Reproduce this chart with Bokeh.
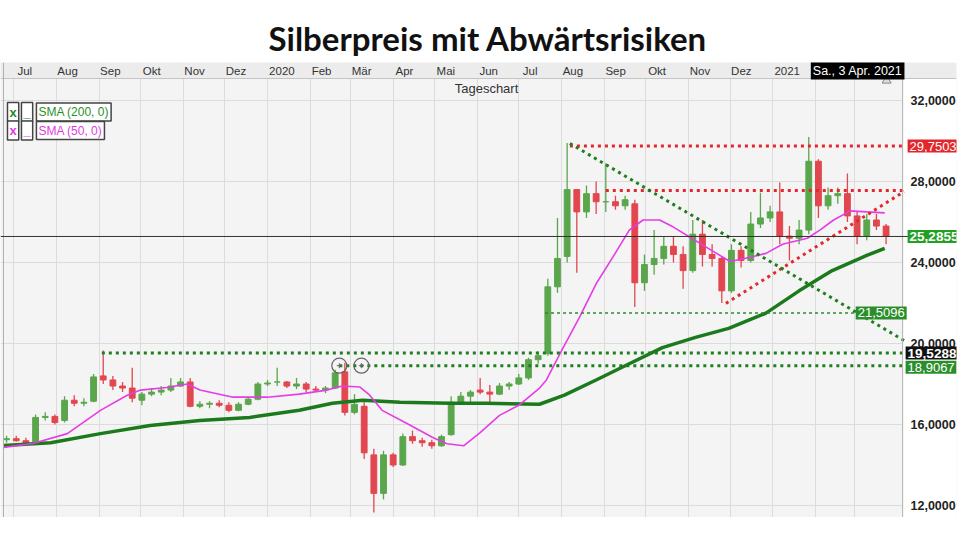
import pandas as pd
from bokeh.plotting import figure
from bokeh.models import Range1d, FixedTicker, Label, Span, BoxAnnotation
from bokeh.embed import file_html
from bokeh.resources import INLINE

T0 = pd.Timestamp("2019-07-01")


def day(s):
    return (pd.Timestamp(s) - T0).days


# ---------------- data ----------------
FIRST_WEEK = "2019-06-24"  # weekly candles, Monday of the first week

opens = [15.25, 15.30, 15.20, 15.15, 16.35, 16.40, 16.20, 17.20, 17.05, 17.15,
         18.40, 18.20, 17.90, 17.80, 17.20, 17.50, 17.60, 17.70, 17.90, 18.10,
         16.90, 17.00, 17.05, 16.95, 16.70, 17.00, 17.25, 18.00, 18.10, 18.10,
         17.90, 18.00, 17.75, 17.70, 17.80, 18.60, 16.60, 16.90, 14.50, 12.60,
         14.50, 14.00, 15.40, 15.20, 15.10, 14.95, 15.50, 17.10, 17.40, 17.70,
         17.60, 17.50, 17.90, 18.00, 18.30, 19.20, 19.50, 22.80, 24.30, 27.60,
         26.50, 27.40, 27.00, 27.00, 26.80, 26.90, 23.00, 23.90, 24.20, 24.80,
         24.40, 23.60, 25.40, 24.40, 24.20, 22.60, 24.60, 24.10, 25.90, 26.20,
         26.50, 25.30, 25.20, 25.60, 29.00, 26.80, 27.30, 27.40, 26.30, 25.30,
         26.10, 25.80]
highs = [15.45, 15.45, 15.35, 16.50, 16.60, 16.50, 17.40, 17.45, 17.30, 18.50,
         19.65, 18.40, 18.10, 18.80, 17.60, 17.80, 17.90, 18.30, 18.30, 18.30,
         17.15, 17.15, 17.20, 17.10, 17.10, 17.35, 18.10, 18.20, 18.80, 18.15,
         18.30, 18.10, 17.90, 17.90, 18.70, 19.05, 17.50, 17.10, 14.80, 14.70,
         14.60, 15.55, 15.70, 15.35, 15.25, 15.50, 17.40, 17.60, 17.70, 18.30,
         17.95, 18.05, 18.10, 18.50, 19.30, 19.60, 23.20, 26.20, 29.90, 27.60,
         27.80, 28.00, 28.90, 27.30, 27.30, 27.10, 24.40, 25.60, 25.30, 25.30,
         24.80, 26.10, 26.10, 24.90, 24.30, 24.90, 24.80, 26.50, 27.45, 26.80,
         27.95, 25.80, 26.10, 30.20, 29.10, 27.70, 27.70, 28.40, 26.50, 26.40,
         26.40, 25.90]
lows = [15.10, 15.15, 15.00, 15.10, 16.20, 16.00, 16.10, 16.90, 16.90, 17.10,
        18.00, 17.70, 17.60, 17.10, 16.95, 17.40, 17.45, 17.60, 17.85, 16.85,
        16.80, 16.80, 16.85, 16.60, 16.65, 16.95, 17.20, 17.90, 17.90, 17.80,
        17.75, 17.60, 17.60, 17.55, 17.75, 16.45, 16.50, 14.30, 11.65, 12.30,
        13.90, 13.95, 15.05, 14.90, 14.80, 14.90, 15.45, 17.05, 17.10, 17.50,
        17.10, 17.45, 17.70, 17.95, 18.20, 19.00, 19.40, 22.50, 24.00, 23.50,
        26.20, 26.40, 26.50, 26.60, 26.60, 21.80, 22.60, 23.40, 23.90, 24.00,
        22.70, 23.50, 23.80, 23.80, 22.00, 22.50, 23.75, 24.00, 25.70, 26.00,
        24.90, 24.10, 24.90, 25.40, 26.20, 26.60, 26.90, 26.00, 24.90, 25.10,
        25.60, 24.90]
closes = [15.30, 15.20, 15.10, 16.35, 16.40, 16.10, 17.20, 17.05, 17.10, 18.35,
          18.20, 17.90, 17.80, 17.30, 17.50, 17.60, 17.70, 17.90, 18.10, 16.90,
          17.00, 17.05, 16.95, 16.70, 17.00, 17.25, 18.00, 18.05, 18.10, 17.90,
          18.00, 17.75, 17.70, 17.80, 18.55, 16.60, 17.00, 14.60, 12.60, 14.50,
          14.00, 15.40, 15.20, 15.10, 14.95, 15.40, 17.10, 17.40, 17.60, 17.60,
          17.50, 17.90, 18.00, 18.30, 19.20, 19.40, 22.80, 24.20, 27.60, 26.50,
          27.40, 27.00, 27.00, 26.80, 27.10, 23.00, 23.90, 24.20, 24.80, 24.40,
          23.60, 25.40, 24.40, 24.20, 22.60, 24.60, 24.10, 25.90, 26.20, 26.50,
          25.30, 25.20, 25.60, 29.00, 26.80, 27.30, 27.40, 26.30, 25.30, 26.10,
          25.80, 25.2855]

sma200_dates = ["2019-06-24", "2019-07-28", "2019-09-02", "2019-10-08", "2019-11-13",
                "2019-12-19", "2020-01-24", "2020-02-17", "2020-03-10", "2020-04-06",
                "2020-05-12", "2020-06-07", "2020-07-16", "2020-08-03", "2020-08-26",
                "2020-09-19", "2020-10-13", "2020-11-06", "2020-11-30", "2020-12-27",
                "2021-01-20", "2021-02-13", "2021-03-10", "2021-03-23"]
sma200_vals = [14.96, 15.10, 15.55, 15.95, 16.20, 16.35, 16.70, 17.05, 17.20, 17.10,
               17.05, 17.05, 17.00, 17.45, 18.20, 19.00, 19.80, 20.30, 20.75, 21.50,
               22.60, 23.60, 24.35, 24.70]

sma50_dates = ["2019-06-24", "2019-07-15", "2019-08-09", "2019-09-02", "2019-09-21",
               "2019-10-01", "2019-10-20", "2019-11-04", "2019-11-13", "2019-12-07",
               "2020-01-01", "2020-01-24", "2020-02-13", "2020-02-24", "2020-03-08",
               "2020-03-15", "2020-03-24", "2020-04-11", "2020-04-30", "2020-05-10",
               "2020-05-22", "2020-06-03", "2020-06-17", "2020-07-01", "2020-07-16",
               "2020-07-21", "2020-08-01", "2020-08-14", "2020-08-26", "2020-09-07",
               "2020-09-19", "2020-09-29", "2020-10-11", "2020-10-21", "2020-11-02",
               "2020-11-14", "2020-12-01", "2020-12-15", "2020-12-27", "2021-01-08",
               "2021-01-26", "2021-02-04", "2021-02-14", "2021-02-26", "2021-03-10",
               "2021-03-23"]
sma50_vals = [14.87, 15.06, 15.55, 16.70, 17.43, 17.70, 17.83, 18.00, 17.70, 17.35,
              17.35, 17.50, 17.70, 17.90, 17.85, 17.45, 16.70, 16.05, 15.35, 15.05,
              14.95, 15.60, 16.45, 16.95, 17.80, 18.20, 19.65, 21.30, 22.95, 24.25,
              25.60, 26.10, 26.10, 25.75, 25.25, 24.75, 24.05, 24.25, 24.45, 24.90,
              25.20, 25.60, 26.10, 26.55, 26.50, 26.45]

month_dates = ["2019-07-01", "2019-08-01", "2019-09-01", "2019-10-01", "2019-11-01",
               "2019-12-01", "2020-01-01", "2020-02-01", "2020-03-01", "2020-04-01",
               "2020-05-01", "2020-06-01", "2020-07-01", "2020-08-01", "2020-09-01",
               "2020-10-01", "2020-11-01", "2020-12-01", "2021-01-01", "2021-02-01",
               "2021-03-01"]
month_labels = ["Jul", "Aug", "Sep", "Okt", "Nov", "Dez", "2020", "Feb", "Mär", "Apr",
                "Mai", "Jun", "Jul", "Aug", "Sep", "Okt", "Nov", "Dez", "2021"]

price_ticks = [12, 16, 20, 24, 28, 32]
price_tick_labels = ["12,0000", "16,0000", "20,0000", "24,0000", "28,0000", "32,0000"]

last_price = 25.2855
top_level = 29.7503
mid_red_level = 27.55
support_level = 21.5096
high_2019 = 19.5288
high_2020 = 18.9067
red_rise = [("2020-11-28", 21.98), ("2021-04-06", 27.50)]
green_fall = [("2020-08-07", 29.88), ("2021-04-06", 20.15)]
END = "2021-04-06"
marks_2020 = ["2020-02-22", "2020-03-09"]

# ---------------- geometry helpers (pixel layout) ----------------
W, H = 958, 517
PX_PER_DAY = 1.3836
X0_PX = 13.0            # pixel of 1 Jul 2019
FRAME_TOP = 62
Y_TOP, PX_PER_UNIT = 33.877, 20.25


def dx(fx):
    return (fx - X0_PX) / PX_PER_DAY


def py(fy):
    return Y_TOP - (fy - FRAME_TOP) / PX_PER_UNIT


p = figure(width=W, height=H, x_range=Range1d(dx(0), dx(W)),
           y_range=Range1d(py(H), Y_TOP), x_axis_location="above",
           y_axis_location="right", toolbar_location=None, output_backend="svg",
           min_border_left=0, min_border_right=0, min_border_top=FRAME_TOP,
           min_border_bottom=0)

p.background_fill_color = "#f4f4f4"
p.border_fill_color = "white"
p.outline_line_color = None

p.title.text = "Silberpreis mit Abwärtsrisiken"
p.title.text_font = "Lato"
p.title.text_font_style = "bold"
p.title.text_font_size = "33px"
p.title.text_color = "#111111"
p.title.align = "left"
p.title.offset = 268
p.title.standoff = 7

# right white strip for the price scale, label row on top
p.add_layout(BoxAnnotation(left=dx(904), fill_color="white", fill_alpha=1,
                           line_color=None, level="underlay"))
p.add_layout(BoxAnnotation(bottom=py(78), fill_color="#ececec", fill_alpha=1,
                           line_color=None, level="underlay"))
p.add_layout(Span(location=py(78), dimension="width", line_color="#c4c4c4", line_width=1))
p.add_layout(Span(location=dx(904), dimension="height", line_color="#b0b0b0", line_width=1))
p.add_layout(Span(location=dx(3), dimension="height", line_color="#b0b0b0", line_width=1))

# top axis (months)
xa = p.xaxis[0]
tick_pos = [day(d) + (2 + 3.1 * len(lbl)) / PX_PER_DAY for d, lbl in zip(month_dates, month_labels)]
xa.ticker = FixedTicker(ticks=tick_pos)
xa.major_label_overrides = {t: lbl for t, lbl in zip(tick_pos, month_labels)}
xa.major_tick_line_color = None
xa.minor_tick_line_color = None
xa.major_tick_out = 0
xa.major_tick_in = 0
xa.axis_line_color = None
xa.major_label_standoff = -14
xa.major_label_text_font = "Liberation Sans"
xa.major_label_text_font_size = "11.5px"
xa.major_label_text_color = "#333333"
p.xgrid.ticker = FixedTicker(ticks=[day(d) for d in month_dates])
p.xgrid.grid_line_color = "#dcdcdc"

ya = p.yaxis[0]
ya.ticker = FixedTicker(ticks=price_ticks)
ya.major_label_overrides = {t: lbl for t, lbl in zip(price_ticks, price_tick_labels)}
ya.major_tick_line_color = None
ya.minor_tick_line_color = None
ya.major_tick_out = 0
ya.major_tick_in = 0
ya.axis_line_color = None
ya.major_label_standoff = -46
ya.major_label_text_font = "Liberation Sans"
ya.major_label_text_font_style = "bold"
ya.major_label_text_font_size = "12.5px"
ya.major_label_text_color = "#222222"
p.ygrid.ticker = FixedTicker(ticks=price_ticks)
p.ygrid.grid_line_color = "#dcdcdc"

# candles
weeks = pd.date_range(FIRST_WEEK, periods=len(closes), freq="7D")
cx = [day(w) + 2 for w in weeks]
GREEN, RED = "#5aa64c", "#e2464f"
colors = [GREEN if c >= o else RED for o, c in zip(opens, closes)]
tops = [max(o, c) for o, c in zip(opens, closes)]
bots = [min(o, c) for o, c in zip(opens, closes)]
p.segment(x0=cx, y0=lows, x1=cx, y1=highs, line_color=colors, line_width=1.3)
p.vbar(x=cx, width=4.2, top=tops, bottom=bots, fill_color=colors, line_color=colors)

# moving averages
p.line([day(d) for d in sma200_dates], sma200_vals, line_color="#1b7a1b", line_width=3.5)
p.line([day(d) for d in sma50_dates], sma50_vals, line_color="#e53ce5", line_width=1.6)

# current price
p.add_layout(Span(location=last_price, dimension="width", line_color="#333333", line_width=1))

RC, GC = "#e5262c", "#1f7f1f"
DOT = dict(line_width=3, line_dash="3 4")
p.line([day("2020-08-07"), day(END)], [top_level, top_level], line_color=RC, **DOT)
p.line([day("2020-09-02"), day(END)], [mid_red_level, mid_red_level], line_color=RC, **DOT)
p.line([day(d) for d, _ in red_rise], [v for _, v in red_rise], line_color=RC, **DOT)
p.line([day(d) for d, _ in green_fall], [v for _, v in green_fall], line_color=GC, **DOT)
p.line([day("2019-09-03"), day(END)], [high_2019, high_2019], line_color=GC, **DOT)
p.line([day(marks_2020[0]), day(END)], [high_2020, high_2020], line_color=GC, **DOT)
p.line([day("2020-07-20"), day("2021-03-01")], [support_level, support_level],
       line_color="#2a8a2a", line_width=1.5, line_dash="3 3")
p.scatter([day(d) for d in marks_2020], [high_2020] * 2, marker="circle", size=15,
          fill_color=None, line_color="#666666", line_width=1.2)
p.scatter([day(d) for d in marks_2020], [high_2020] * 2, marker="cross", size=5,
          line_color="#666666", line_width=1)

FONT = "Liberation Sans"


def tag(x, y, text, bg, size="13px", bold=False, color="white", align="left", border=None):
    lab = Label(x=x, y=y, text=text, text_font=FONT, text_font_size=size,
                text_color=color, text_align=align, text_baseline="middle",
                background_fill_color=bg, padding=2,
                text_font_style="bold" if bold else "normal")
    if border:
        lab.border_line_color = border
        lab.border_line_width = 1.5
    p.add_layout(lab)


# price tags
tag(dx(909), top_level, "29,7503", "#e3262b")
tag(dx(909), last_price, "25,2855", "#22a022", size="13.5px", bold=True)
tag(dx(857), support_level, "21,5096", "#2a8f2a")
tag(dx(907), high_2019, "19,5288", "#111111", size="13.5px", bold=True)
tag(dx(907), high_2020 - 0.08, "18,9067", "#2a8f2a")

# header texts
tag(dx(487), py(88), "Tageschart", None, size="13px", color="#333333", align="center")
tag(dx(812), py(70), "Sa., 3 Apr. 2021", "#000000", size="12.5px")

# indicator legend
tag(dx(7), py(111.5), "x", "white", bold=True, color="#1f8a1f", border="#444444")
tag(dx(21), py(111.5), "_", "white", bold=True, color="#1f8a1f", border="#444444")
tag(dx(36), py(111.5), "SMA (200, 0)", "white", size="12px", color="#2a8f2a", border="#444444")
tag(dx(7), py(130), "x", "white", bold=True, color="#e03ce0", border="#444444")
tag(dx(21), py(130), "_", "white", bold=True, color="#e03ce0", border="#444444")
tag(dx(36), py(130), "SMA (50, 0)", "white", size="12px", color="#e03ce0", border="#444444")

p.scatter([dx(888)], [py(80)], marker="triangle", size=9, fill_color="#dddddd", line_color="#888888")

open("out.html", "w").write(file_html(p, INLINE))
